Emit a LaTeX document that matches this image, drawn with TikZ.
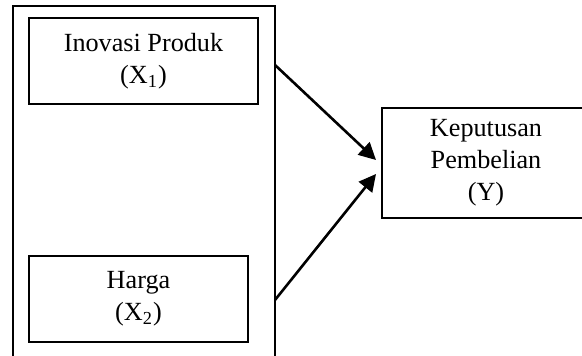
\documentclass[tikz,border=0pt]{standalone}
\usepackage{fontspec}
\setmainfont{Liberation Serif}
\usetikzlibrary{arrows.meta}
\begin{document}
\begin{tikzpicture}[x=0.5pt,y=-0.5pt,
  box/.style={draw,line width=1.1pt,rectangle,inner sep=0pt,align=center,
    font=\fontsize{13.1pt}{16pt}\selectfont},
  conn/.style={line width=1.3pt,-{Triangle[length=8.5pt,width=8.5pt]}}]
\useasboundingbox (0,0) rectangle (582,356);
\clip (0,0) rectangle (582,356);
\fill[white] (0,0) rectangle (582,356);
% outer frame (open at bottom)
\draw[line width=1.1pt] (13,370) -- (13,6) -- (275,6) -- (275,370);
\node[box,minimum width=114.5pt,minimum height=43pt] (x1) at (143.5,61)
  {Inovasi Produk\\(X\textsubscript{1})};
\node[box,minimum width=109.5pt,minimum height=43pt] (x2) at (138.5,299)
  {Harga\\(X\textsubscript{2})};
\node[box,minimum width=104pt,minimum height=55pt] (y) at (486,163)
  {Keputusan\\Pembelian\\(Y)};
\coordinate (s1) at (275,65);
\coordinate (s2) at (275,300);
\coordinate (t1) at (376,160);
\coordinate (t2) at (376,174);
\draw[conn] (s1) -- (t1);
\draw[conn] (s2) -- (t2);
\end{tikzpicture}
\end{document}
